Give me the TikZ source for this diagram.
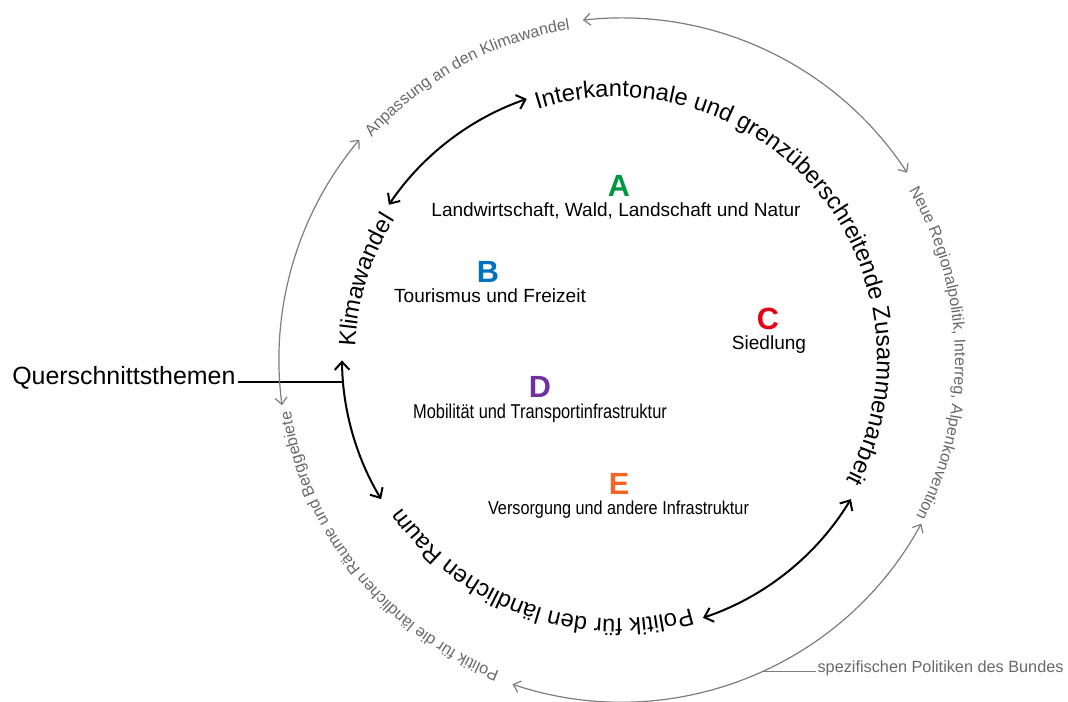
\documentclass[tikz,border=0pt]{standalone}
\usepackage{fontspec}
\setmainfont{Liberation Sans}
\newfontfamily\narrowA[FakeStretch=0.82]{Liberation Sans}
\newfontfamily\narrowB[FakeStretch=0.87]{Liberation Sans}
\usetikzlibrary{arrows.meta,decorations.text}
\definecolor{grayline}{RGB}{125,125,125}
\definecolor{graytext}{RGB}{105,105,105}
\definecolor{cA}{RGB}{0,150,64}
\definecolor{cB}{RGB}{0,112,192}
\definecolor{cC}{RGB}{230,0,18}
\definecolor{cD}{RGB}{112,48,160}
\definecolor{cE}{RGB}{242,101,34}
\newcommand\arcfont{\fontsize{17.8}{20}\selectfont}
\newcommand\grayarcfont{\color{graytext}\fontsize{12.1}{14}\selectfont}
\begin{document}
\begin{tikzpicture}[x=0.75pt,y=0.75pt,
  innerarrow/.style={line width=1.5pt, black,
    {Straight Barb[length=6pt,width=11pt]}-{Straight Barb[length=6pt,width=11pt]}},
  grayarrow/.style={line width=0.9pt, grayline,
    {Straight Barb[length=5pt,width=9pt]}-{Straight Barb[length=5pt,width=9pt]}},
  letter/.style={font=\bfseries\fontsize{23}{26}\selectfont, anchor=base, inner sep=0pt},
  topic/.style={font=\fontsize{14.3}{16}\selectfont, anchor=base, inner sep=0pt},
]
\useasboundingbox (0,0) rectangle (1068,702);
\coordinate (ic) at (616,344);
\coordinate (oc) at (621,342);

% inner circle texts
\path[decorate, decoration={text along path, text align=left,
  text={|\arcfont|Interkantonale und grenzüberschreitende Zusammenarbeit}}]
  ([shift={(107.5:261)}]ic) arc[start angle=107.5, end angle=-45, radius=261];
\path[decorate, decoration={text along path, text align=left,
  text={|\arcfont|Klimawandel}}]
  ([shift={(177.5:261)}]ic) arc[start angle=177.5, end angle=135, radius=261];
\path[decorate, decoration={text along path, text align=left,
  text={|\arcfont|Politik für den ländlichen Raum}}]
  ([shift={(-73.3:261)}]ic) arc[start angle=-73.3, end angle=-160, radius=261];

% inner arrows
\draw[innerarrow] ([shift={(146:274)}]ic) arc[start angle=146, end angle=109, radius=274];
\draw[innerarrow] ([shift={(180.5:274)}]ic) arc[start angle=180.5, end angle=211, radius=274];
\draw[innerarrow] ([shift={(-71.5:274)}]ic) arc[start angle=-71.5, end angle=-31, radius=274];

% Querschnittsthemen
\coordinate (jn) at ([shift={(185:274)}]ic);
\node[anchor=base west, inner sep=0pt, font=\fontsize{18.7}{21}\selectfont] (q) at (12,317) {Querschnittsthemen};
\draw[line width=1.2pt] ([xshift=2pt]q.east |- jn) -- (jn);

% outer circle texts
\path[decorate, decoration={text along path, text align=left,
  text={|\grayarcfont|Anpassung an den Klimawandel}}]
  ([shift={(138.3:334)}]oc) arc[start angle=138.3, end angle=85, radius=334];
\path[decorate, decoration={text along path, text align=left,
  text={|\grayarcfont|Neue Regionalpolitik, Interreg, Alpenkonvention}}]
  ([shift={(30.5:334)}]oc) arc[start angle=30.5, end angle=-40, radius=334];
\path[decorate, decoration={text along path, text align=left,
  text={|\grayarcfont|Politik für die ländlichen Räume und Berggebiete}}]
  ([shift={(-111.3:334)}]oc) arc[start angle=-111.3, end angle=-185, radius=334];

% outer arrows
\draw[grayarrow] ([shift={(187.6:342)}]oc) arc[start angle=187.6, end angle=139.9, radius=342];
\draw[grayarrow] ([shift={(96.4:342)}]oc) arc[start angle=96.4, end angle=33.2, radius=342];
\draw[grayarrow] ([shift={(-28.6:342)}]oc) arc[start angle=-28.6, end angle=-108.5, radius=342];

% spezifischen Politiken
\coordinate (sj) at ([shift={(-65.5:342)}]oc);
\node[anchor=base west, inner sep=1pt, text=graytext, font=\fontsize{12.2}{14}\selectfont] (sp) at (816,29) {spezifischen Politiken des Bundes};
\draw[grayline, line width=0.9pt] (sj) -- (sp.west |- sj);

% center topics
\node[letter, text=cA] (la) at (619,505) {A};
\node[topic] (ta) at (616,485) {Landwirtschaft, Wald, Landschaft und Natur};
\node[letter, text=cB] (lb) at (488,419) {B};
\node[topic] (tb) at (490,399) {Tourismus und Freizeit};
\node[letter, text=cC] (lc) at (768,372) {C};
\node[topic] (tc) at (769,352) {Siedlung};
\node[letter, text=cD] (ld) at (540,304) {D};
\node[topic, font=\narrowA\fontsize{15}{17}\selectfont] (td) at (540,283) {Mobilität und Transportinfrastruktur};
\node[letter, text=cE] (le) at (619,207) {E};
\node[topic, font=\narrowB\fontsize{14}{16}\selectfont] (te) at (618.5,187) {Versorgung und andere Infrastruktur};
\end{tikzpicture}
\end{document}
